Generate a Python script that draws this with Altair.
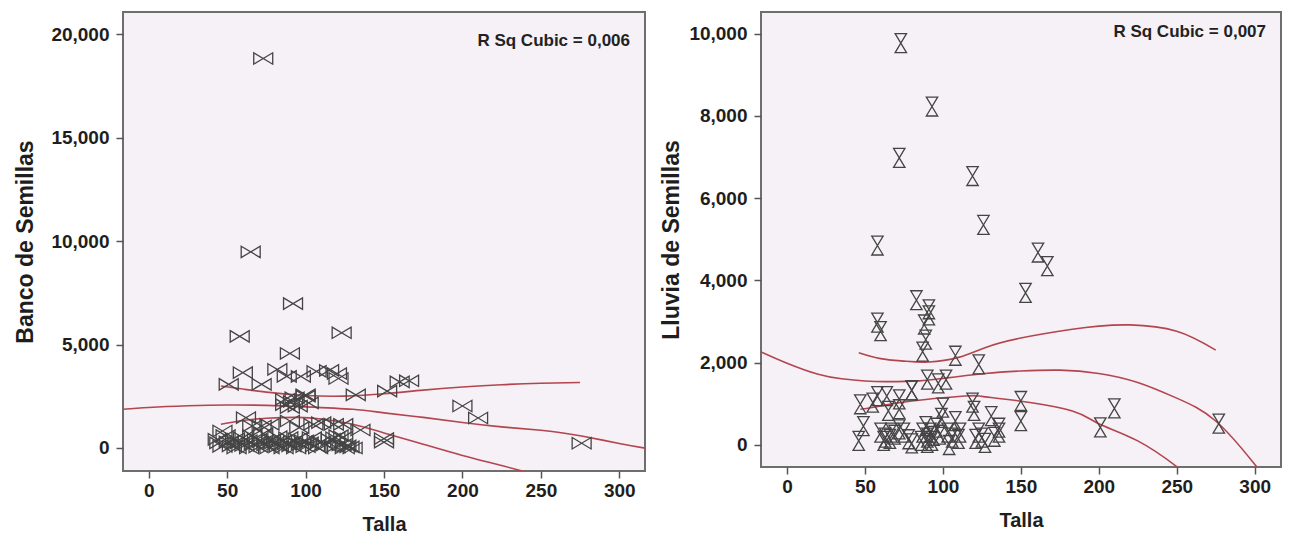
import altair as alt
import pandas as pd

# ---------------- data: left panel (Talla vs Banco de Semillas) ----------------
talla_banco = [73, 65, 92, 58, 123, 90,
               60, 82, 88, 97, 107, 115, 120, 121, 51, 72,
               100, 132, 152, 160, 166, 200, 210, 276, 150, 150,
               87, 93, 100, 87, 95, 102, 90, 92,
               62, 72, 66, 77, 90, 96, 105, 110, 118, 124, 135, 47, 124, 119,
               44, 45, 47, 49, 51, 53, 55, 56, 58, 60, 61, 63, 64, 66, 67, 69,
               70, 72, 73, 75, 77, 78, 80, 82, 83, 85, 86, 88, 89, 91, 92, 94,
               95, 97, 99, 100, 102, 104, 106, 108, 110, 113, 116, 119, 121,
               123, 125, 126, 128, 130]
banco = [18830, 9480, 6980, 5400, 5570, 4570,
         3640, 3800, 3460, 3460, 3700, 3750, 3600, 3360, 3080, 3080,
         2570, 2570, 2750, 3200, 3250, 2030, 1450, 230, 280, 450,
         2350, 2430, 2510, 2100, 2020, 2180, 1950, 2250,
         1465, 1064, 1064, 1145, 1305, 983, 1145, 1225, 1145, 1145, 870, 822, 530, 500,
         420, 250, 80, 600, 300, 100, 450, 0, 250, 500, 120, 350, 0, 600, 200, 420,
         50, 300, 700, 150, 0, 400, 250, 550, 80, 350, 0, 200, 500, 100, 320, 0,
         450, 180, 350, 60, 250, 500, 100, 0, 300, 150, 420, 50, 600,
         150, 0, 100, 50, 0]

# fitted cubic and its band
fit_b_x = [-17, 0, 25, 50, 75, 100, 130, 150, 175, 200, 225, 250, 263, 276, 300, 317]
fit_b_y = [1870, 1960, 2040, 2080, 2060, 1990, 1870, 1700, 1480, 1230, 1020, 860, 740, 580, 220, -15]
up_b_x = [46, 60, 75, 100, 125, 150, 175, 200, 225, 250, 275]
up_b_y = [3000, 2850, 2700, 2540, 2510, 2620, 2800, 2950, 3060, 3130, 3170]
lo_b_x = [46, 60, 75, 95, 110, 130, 150, 175, 200, 225, 250]
lo_b_y = [1150, 1330, 1440, 1480, 1400, 1150, 730, 180, -360, -850, -1350]

# ---------------- data: right panel (Talla vs Lluvia de Semillas) ----------------
talla_lluvia = [73, 93, 72, 119, 126, 58, 161, 167, 153, 83, 91, 91, 58, 60, 88, 89, 87,
                108, 123, 80, 90, 97, 102,
                47, 55, 58, 64, 65, 72, 72, 80, 100, 99, 119, 120, 131, 150, 150, 210, 201, 277,
                49, 46,
                60, 63, 67, 72, 78, 80, 87, 89, 90, 92, 94, 96, 103, 106, 108, 111, 123, 125,
                136, 136, 62, 69, 86, 90, 93, 98, 104, 110, 121, 127, 133, 75, 66]
lluvia = [9770, 8230, 6980, 6540, 5350, 4850, 4680, 4350, 3700, 3520, 3300, 3150, 2975, 2770, 2930, 2560, 2270,
          2170, 1960, 1330, 1590, 1500, 1590,
          990, 1030, 1190, 1190, 830, 1110, 870, 1330, 910, 660, 1030, 830, 700, 1070, 580, 890, 430, 520,
          460, 100,
          300, 180, 300, 380, 140, 40, 300, 460, 180, 300, 220, 420, 300, 180, 580, 300, 300, 180,
          300, 420, 100, 250, 100, 50, 100, 250, 0, 150, 150, 50, 200, 300, 150]

fit_l_x = [-17, 0, 20, 35, 50, 65, 85, 100, 127, 150, 175, 200, 225, 250, 275, 300, 317]
fit_l_y = [2270, 1990, 1720, 1610, 1556, 1540, 1560, 1620, 1740, 1800, 1820, 1740, 1520, 1140, 583, -470, -1300]
up_l_x = [46, 60, 75, 91, 110, 127, 150, 183, 200, 220, 250, 275]
up_l_y = [2245, 2100, 2040, 2018, 2130, 2366, 2600, 2813, 2890, 2920, 2767, 2308]
lo_l_x = [47, 60, 80, 114, 125, 149, 183, 200, 225, 250, 262]
lo_l_y = [868, 950, 1070, 1190, 1183, 1070, 827, 517, 100, -525, -900]

x_ticks = [0, 50, 100, 150, 200, 250, 300]
y_ticks_b = [0, 5000, 10000, 15000, 20000]
y_ticks_l = [0, 2000, 4000, 6000, 8000, 10000]

FONT = "Liberation Sans"
LINE_COLOR = "#b3454f"
MARK_COLOR = "#444444"
BOWTIE = "M -1 -0.6 L 1 0.6 L 1 -0.6 L -1 0.6 Z"
HOURGLASS = "M -0.6 -1 L 0.6 -1 L -0.6 1 L 0.6 1 Z"


def curves(pairs):
    rows = []
    for name, xs, ys in pairs:
        for x, y in zip(xs, ys):
            rows.append({"t": x, "v": y, "curve": name})
    return pd.DataFrame(rows)


def panel(px, py, lines, shape, ytitle, yticks, xdom, ydom, w, h, r2, r2y, ytp):
    pts = pd.DataFrame({"t": px, "v": py})
    xs = alt.Scale(domain=xdom, nice=False, zero=False)
    ys = alt.Scale(domain=ydom, nice=False, zero=False)
    xax = alt.Axis(values=x_ticks, title="Talla", format="d", titleFontSize=20,
                   labelPadding=3, titlePadding=14)
    yax = alt.Axis(values=yticks, title=ytitle, format=",d", titleFontSize=23,
                   labelPadding=7, titlePadding=ytp)
    scatter = alt.Chart(pts).mark_point(
        shape=shape, size=360, filled=False, stroke=MARK_COLOR, strokeWidth=1.3, opacity=1
    ).encode(x=alt.X("t:Q", scale=xs, axis=xax), y=alt.Y("v:Q", scale=ys, axis=yax))
    fit = alt.Chart(curves(lines)).mark_line(
        color=LINE_COLOR, strokeWidth=1.6, clip=True, interpolate="natural"
    ).encode(x=alt.X("t:Q", scale=xs), y=alt.Y("v:Q", scale=ys), detail="curve:N")
    note = alt.Chart(pd.DataFrame({"label": [r2]})).mark_text(
        align="right", baseline="middle", font=FONT, fontSize=17, fontWeight="bold", color="#222"
    ).encode(x=alt.value(w - 15), y=alt.value(r2y), text="label:N")
    return alt.layer(fit, scatter, note).properties(width=w, height=h)


left = panel(talla_banco, banco,
             [("fit", fit_b_x, fit_b_y), ("up", up_b_x, up_b_y), ("lo", lo_b_x, lo_b_y)],
             BOWTIE, "Banco de Semillas", y_ticks_b,
             [-16.4, 316.4], [-1112, 21078], 522, 459, "R Sq Cubic = 0,006", 29, 13)
right = panel(talla_lluvia, lluvia,
              [("fit", fit_l_x, fit_l_y), ("up", up_l_x, up_l_y), ("lo", lo_l_x, lo_l_y)],
              HOURGLASS, "Lluvia de Semillas", y_ticks_l,
              [-16.7, 316.9], [-535, 10528], 520, 455, "R Sq Cubic = 0,007", 20, 5)

chart = alt.hconcat(left, right, spacing=13).properties(
    padding={"left": 5, "top": 3, "right": 0, "bottom": 0}
).configure(font=FONT).configure_view(
    fill="#f5f1f6", stroke="#6e6e6e", strokeWidth=2
).configure_axis(
    grid=False, domain=False, tickColor="#555555", tickSize=7, tickWidth=1.5,
    labelFont=FONT, labelFontSize=19, labelFontWeight="bold", labelColor="#1e1e1e",
    titleFont=FONT, titleFontWeight="bold", titleColor="#1e1e1e"
)

chart.save("out.html", embed_options={"renderer": "svg", "actions": False})
